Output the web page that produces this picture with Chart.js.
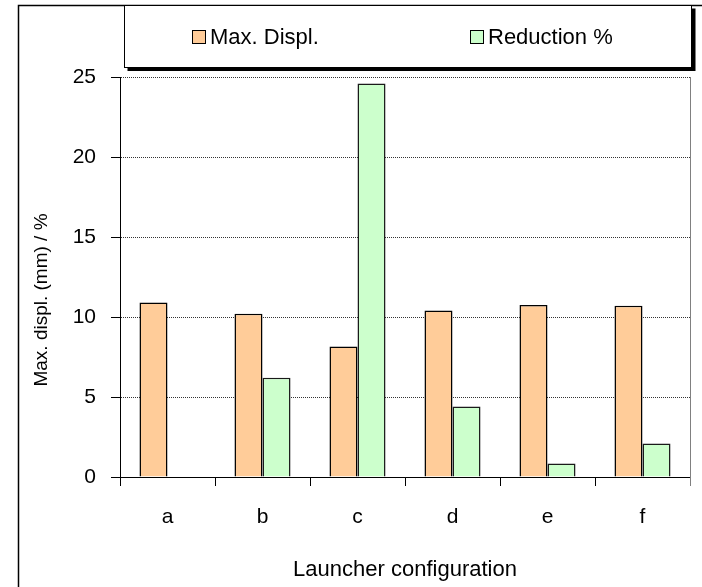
<!DOCTYPE html>
<html>
<head>
<meta charset="utf-8">
<script src="https://cdn.jsdelivr.net/npm/chart.js@4.4.1/dist/chart.umd.min.js"></script>
<style>
  html, body { margin: 0; padding: 0; background: #fff; }
  #wrap { width: 702px; height: 587px; position: relative; }
</style>
</head>
<body>
<div id="wrap"><canvas id="c" width="702" height="587"></canvas></div>
<script>
// Launcher configurations and measured values
const categories = ['a', 'b', 'c', 'd', 'e', 'f'];
const maxDispl = [10.9, 10.2, 8.15, 10.4, 10.75, 10.7];
const reduction = [0, 6.2, 24.6, 4.4, 0.85, 2.1];
const seriesNames = ['Max. Displ.', 'Reduction %'];
const yMin = 0, yMax = 25, yStep = 5;
const xTitle = 'Launcher configuration';
const yTitle = 'Max. displ. (mm) / %';

const FONT = "'Liberation Sans', Arial, sans-serif";
const ORANGE = '#FFCC99';
const GREEN = '#CCFFCC';

// Frame, framed legend with drop shadow, vertical axis title
const decor = {
  id: 'decor',
  beforeDraw(chart) {
    const ctx = chart.ctx;
    ctx.save();
    ctx.fillStyle = '#fff';
    ctx.fillRect(0, 0, chart.width, chart.height);
    ctx.restore();
  },
  afterDraw(chart) {
    const ctx = chart.ctx;
    const area = chart.chartArea;
    ctx.save();

    // outer frame (left and top edges)
    ctx.strokeStyle = '#000';
    ctx.lineWidth = 1.5;
    ctx.beginPath();
    ctx.moveTo(18.5, chart.height);
    ctx.lineTo(18.5, 5.5);
    ctx.lineTo(chart.width, 5.5);
    ctx.stroke();

    // right edge of plot area
    ctx.strokeStyle = '#808080';
    ctx.lineWidth = 1;
    ctx.beginPath();
    ctx.moveTo(area.right + 0.5, area.top);
    ctx.lineTo(area.right + 0.5, area.bottom + 9);
    ctx.stroke();

    // legend box with shadow
    const lx = 124.5, ly = 5.5, lw = 567, lh = 62;
    ctx.fillStyle = '#000';
    ctx.fillRect(lx + 3, ly + lh, lw, 3.5);
    ctx.fillRect(lx + lw, ly + 3, 4, lh + 0.5);
    ctx.fillStyle = '#fff';
    ctx.fillRect(lx, ly, lw, lh);
    ctx.strokeStyle = '#000';
    ctx.lineWidth = 1;
    ctx.strokeRect(lx, ly, lw, lh);

    // legend entries
    const entries = chart.data.datasets.map((ds, i) => ({
      label: ds.label, color: ds.backgroundColor, x: i === 0 ? 192 : 470
    }));
    ctx.font = '22px ' + FONT;
    ctx.textBaseline = 'middle';
    ctx.textAlign = 'left';
    entries.forEach(e => {
      ctx.fillStyle = e.color;
      ctx.fillRect(e.x + 0.5, 30.5, 13, 13);
      ctx.strokeStyle = '#000';
      ctx.strokeRect(e.x + 0.5, 30.5, 13, 13);
      ctx.fillStyle = '#000';
      ctx.fillText(e.label, e.x + 18, 38);
    });

    // vertical axis title
    ctx.translate(42, 300);
    ctx.rotate(-Math.PI / 2);
    ctx.font = '19px ' + FONT;
    ctx.textAlign = 'center';
    ctx.textBaseline = 'middle';
    ctx.fillStyle = '#000';
    ctx.fillText(yTitle, 0, 0);
    ctx.restore();
  }
};

new Chart(document.getElementById('c'), {
  type: 'bar',
  data: {
    labels: categories,
    datasets: [
      { label: seriesNames[0], data: maxDispl, backgroundColor: ORANGE, borderColor: '#000', borderWidth: 1.5 },
      { label: seriesNames[1], data: reduction, backgroundColor: GREEN, borderColor: '#1a1a1a', borderWidth: 1.5 }
    ]
  },
  options: {
    responsive: false,
    animation: false,
    devicePixelRatio: 1,
    categoryPercentage: 0.59,
    barPercentage: 1.0,
    layout: { padding: { left: 0, right: 12, top: 77, bottom: 0 } },
    plugins: { legend: { display: false }, tooltip: { enabled: false } },
    scales: {
      x: {
        afterFit: s => { s.height = 110; },
        grid: { display: true, drawOnChartArea: false, offset: true, tickLength: 9, tickColor: '#000', color: '#000' },
        border: { display: true, color: '#000', width: 1 },
        ticks: { color: '#000', font: { family: FONT, size: 21 }, padding: 19 },
        title: { display: true, text: xTitle, color: '#000', font: { family: FONT, size: 22 }, padding: { top: 0, bottom: 4 } }
      },
      y: {
        min: yMin, max: yMax,
        afterFit: s => { s.width = 120; },
        grid: { color: '#333', lineWidth: 1, tickColor: '#000', tickLength: 9, tickBorderDash: [] },
        border: { display: true, color: '#000', width: 1, dash: [1, 1] },
        ticks: { stepSize: yStep, color: '#000', font: { family: FONT, size: 21 }, padding: 15 }
      }
    }
  },
  plugins: [decor]
});
</script>
</body>
</html>
